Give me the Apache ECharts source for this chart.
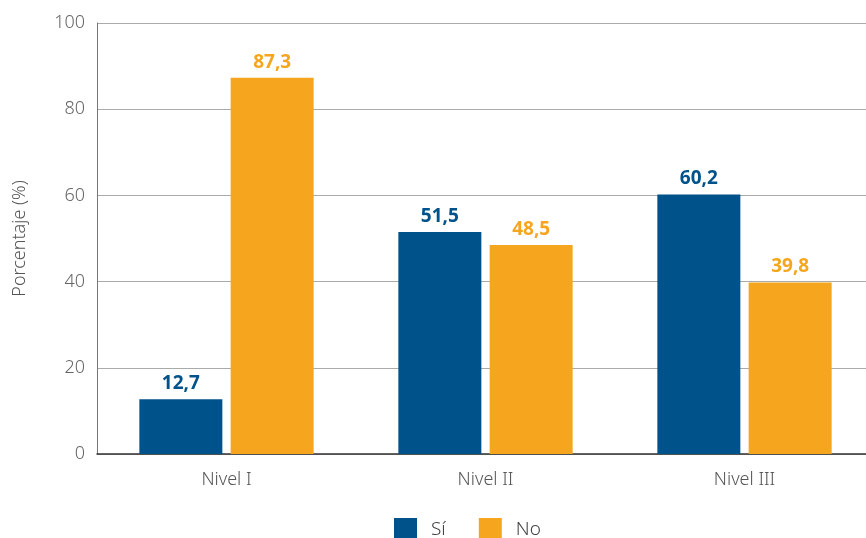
<!DOCTYPE html>
<html><head><meta charset="utf-8">
<script src="https://cdn.jsdelivr.net/npm/echarts@6/dist/echarts.min.js"></script>
<style>html,body{margin:0;padding:0;background:#fff}#c{width:866px;height:538px}</style>
</head><body><div id="c"></div>
<script>
const categories = ['Nivel I', 'Nivel II', 'Nivel III'];
const siValues = [12.7, 51.5, 60.2];
const noValues = [87.3, 48.5, 39.8];
const yTicks = [0, 20, 40, 60, 80, 100];
const seriesNames = ['Sí', 'No'];

const BLUE = '#00538a', ORANGE = '#f6a51e';
const FONT = '"Source Sans Pro","Noto Sans","Open Sans",sans-serif';
const fmt = v => String(v.value).replace('.', ',');
const chart = echarts.init(document.getElementById('c'));
chart.setOption({
  animation: false,
  textStyle: { fontFamily: FONT },
  grid: { left: 97, top: 23, width: 777, height: 431, containLabel: false, outerBoundsMode: 'none' },
  legend: {
    data: seriesNames, top: 513, left: 389, itemWidth: 23, itemHeight: 23, itemGap: 33,
    icon: 'rect',
    textStyle: { fontSize: 19, color: '#444', fontWeight: 300, fontFamily: FONT, padding: [0, 0, 0, 9] }
  },
  xAxis: {
    type: 'category', data: categories,
    axisLine: { lineStyle: { color: '#333', width: 1.5 } },
    axisTick: { inside: true, length: 10, lineStyle: { color: '#333' } },
    axisLabel: { fontSize: 18, color: '#555', fontWeight: 300, margin: 17, fontFamily: FONT }
  },
  yAxis: {
    type: 'value', min: 0, max: 100, interval: 20,
    name: 'Porcentaje (%)', nameLocation: 'middle', nameGap: 68, nameRotate: 90,
    nameTextStyle: { fontSize: 18, color: '#555', fontWeight: 300, fontFamily: FONT },
    axisLine: { show: true, lineStyle: { color: '#777' } },
    axisTick: { show: false },
    axisLabel: { fontSize: 18, color: '#666', fontWeight: 300, margin: 12, fontFamily: FONT,
      formatter: v => yTicks.includes(v) ? String(v) : '' },
    splitLine: { lineStyle: { color: '#aaa' } }
  },
  series: [
    { name: seriesNames[0], type: 'bar', data: siValues, barWidth: 83, barGap: '10%',
      itemStyle: { color: BLUE },
      label: { show: true, position: 'top', distance: 6, color: BLUE, fontWeight: 'bold', fontSize: 19, fontFamily: FONT, formatter: fmt } },
    { name: seriesNames[1], type: 'bar', data: noValues, barWidth: 83,
      itemStyle: { color: ORANGE },
      label: { show: true, position: 'top', distance: 6, color: ORANGE, fontWeight: 'bold', fontSize: 19, fontFamily: FONT, formatter: fmt } }
  ]
});
</script></body></html>
